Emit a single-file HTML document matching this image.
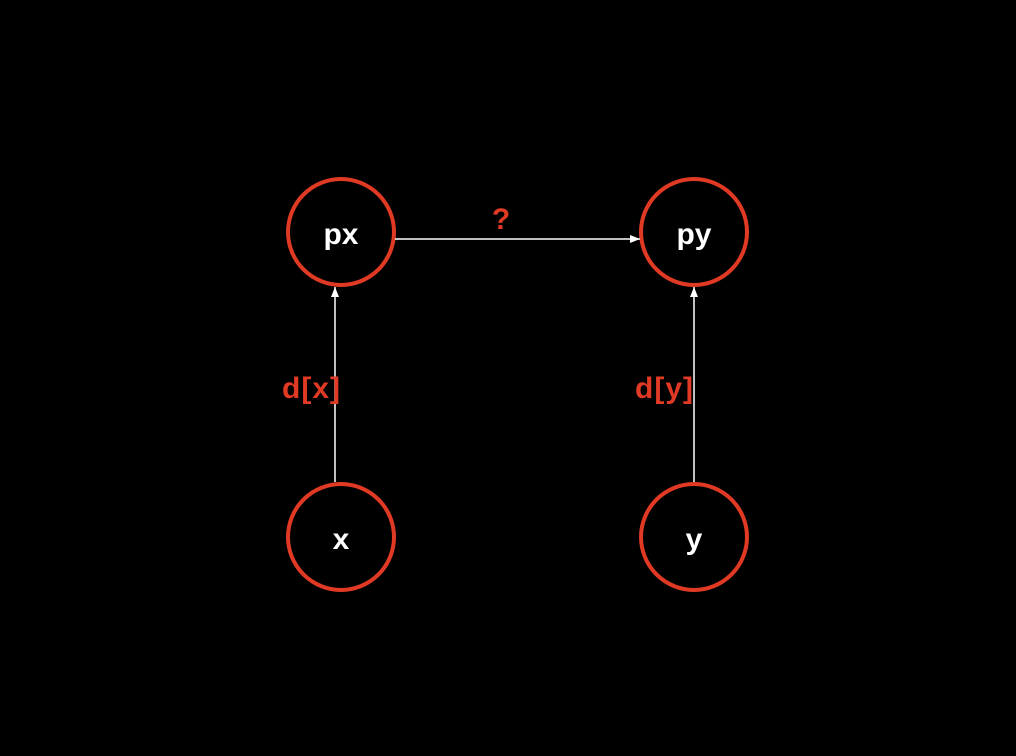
<!DOCTYPE html>
<html><head><style>body{margin:0;background:#000}</style></head><body>
<svg width="1016" height="756" viewBox="0 0 1016 756" xmlns="http://www.w3.org/2000/svg" style="display:block">
<rect width="1016" height="756" fill="#000"/>
<defs><marker id="a" markerWidth="10" markerHeight="8" refX="10" refY="4" orient="auto" markerUnits="userSpaceOnUse"><path d="M0,0 L10,4 L0,8 z" fill="#fff"/></marker></defs>
<g fill="none" stroke="#e03a25" stroke-width="4">
<circle cx="341" cy="232" r="53"/><circle cx="694" cy="232" r="53"/>
<circle cx="341" cy="537" r="53"/><circle cx="694" cy="537" r="53"/>
</g>
<g stroke="#fff" stroke-width="1.5" marker-end="url(#a)">
<line x1="395" y1="239" x2="640" y2="239"/>
<line x1="335" y1="482" x2="335" y2="287"/>
<line x1="694" y1="482" x2="694" y2="287"/>
</g>
<g font-family="Liberation Sans, sans-serif" font-weight="bold" font-size="30" text-anchor="middle">
<g fill="#fff"><text x="341" y="244">px</text><text x="694" y="244">py</text><text x="341" y="549">x</text><text x="694" y="549">y</text></g>
<g fill="#e03a25"><text x="501" y="229">?</text><text x="311" y="398" textLength="58">d[x]</text><text x="664" y="398" textLength="58">d[y]</text></g>
</g>
</svg>
</body></html>
